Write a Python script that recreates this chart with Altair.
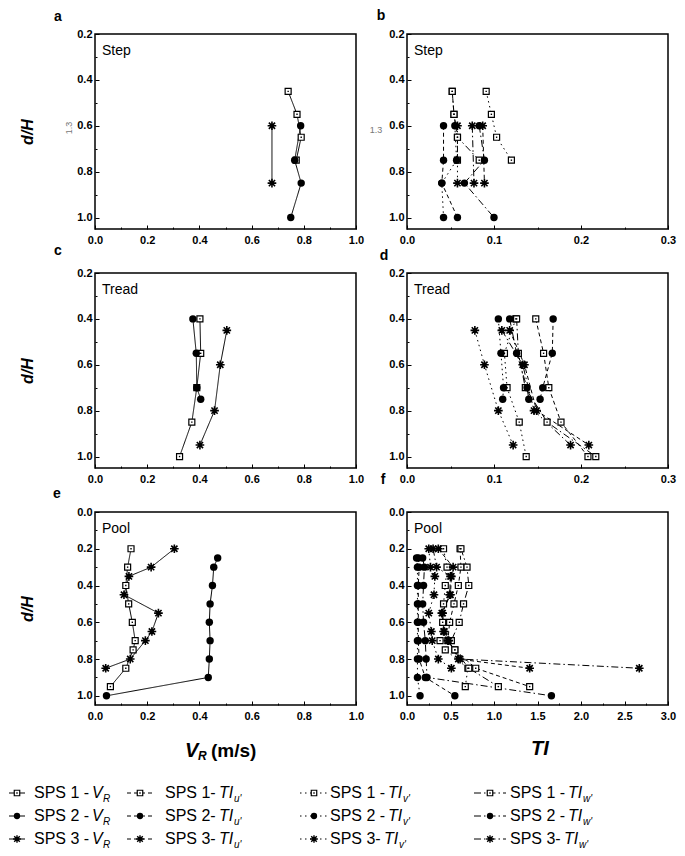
import altair as alt
import pandas as pd

# ---------------- data ----------------
# d/H levels per site
STEP_D1 = [0.45, 0.55, 0.65, 0.75]
STEP_D2 = [0.60, 0.75, 0.85, 1.00]
STEP_D3 = [0.60, 0.85]
TREAD_D1 = [0.40, 0.55, 0.70, 0.85, 1.00]
TREAD_D2 = [0.40, 0.55, 0.70, 0.75]
TREAD_D3 = [0.45, 0.60, 0.80, 0.95]
POOL_D1 = [0.20, 0.30, 0.40, 0.50, 0.60, 0.70, 0.75, 0.85, 0.95]
POOL_D2 = [0.25, 0.30, 0.40, 0.50, 0.60, 0.70, 0.80, 0.90, 1.00]
POOL_D3 = [0.20, 0.30, 0.35, 0.45, 0.55, 0.65, 0.70, 0.80, 0.85]

# V_R (m/s)
STEP_VR_1 = [0.740, 0.774, 0.790, 0.771]
STEP_VR_2 = [0.788, 0.765, 0.790, 0.750]
STEP_VR_3 = [0.678, 0.678]
TREAD_VR_1 = [0.402, 0.405, 0.390, 0.371, 0.324]
TREAD_VR_2 = [0.375, 0.388, 0.390, 0.405]
TREAD_VR_3 = [0.505, 0.480, 0.458, 0.402]
POOL_VR_1 = [0.138, 0.125, 0.118, 0.129, 0.143, 0.154, 0.146, 0.118, 0.059]
POOL_VR_2 = [0.470, 0.455, 0.450, 0.441, 0.438, 0.441, 0.438, 0.434, 0.044]
POOL_VR_3 = [0.304, 0.215, 0.130, 0.111, 0.243, 0.218, 0.193, 0.135, 0.041]

# TI - step
STEP_TIU_1 = [0.052, 0.054, 0.058, 0.058]
STEP_TIV_1 = [0.091, 0.097, 0.103, 0.120]
STEP_TIW_1 = [0.052, 0.054, 0.058, 0.083]
STEP_TIU_2 = [0.042, 0.042, 0.040, 0.058]
STEP_TIV_2 = [0.055, 0.057, 0.040, 0.042]
STEP_TIW_2 = [0.083, 0.089, 0.066, 0.100]
STEP_TIU_3 = [0.087, 0.089]
STEP_TIV_3 = [0.058, 0.058]
STEP_TIW_3 = [0.075, 0.077]

# TI - tread
TREAD_TIU_1 = [0.148, 0.157, 0.163, 0.177, 0.208]
TREAD_TIV_1 = [0.125, 0.112, 0.115, 0.129, 0.137]
TREAD_TIW_1 = [0.126, 0.128, 0.136, 0.161, 0.217]
TREAD_TIU_2 = [0.168, 0.167, 0.156, 0.153]
TREAD_TIV_2 = [0.105, 0.108, 0.111, 0.110]
TREAD_TIW_2 = [0.118, 0.126, 0.138, 0.140]
TREAD_TIU_3 = [0.118, 0.135, 0.149, 0.209]
TREAD_TIV_3 = [0.078, 0.089, 0.105, 0.122]
TREAD_TIW_3 = [0.109, 0.133, 0.146, 0.188]

# TI - pool
POOL_TIU_1 = [0.61, 0.62, 0.59, 0.54, 0.49, 0.47, 0.55, 0.79, 1.41]
POOL_TIV_1 = [0.42, 0.46, 0.44, 0.42, 0.41, 0.38, 0.44, 0.70, 0.67]
POOL_TIW_1 = [0.62, 0.69, 0.71, 0.65, 0.60, 0.51, 0.55, 0.71, 1.05]
POOL_TIU_2 = [0.13, 0.14, 0.13, 0.13, 0.13, 0.13, 0.14, 0.21, 0.55]
POOL_TIV_2 = [0.11, 0.12, 0.12, 0.12, 0.12, 0.12, 0.12, 0.12, 0.15]
POOL_TIW_2 = [0.18, 0.20, 0.19, 0.18, 0.19, 0.21, 0.22, 0.23, 1.66]
POOL_TIU_3 = [0.36, 0.53, 0.51, 0.50, 0.40, 0.43, 0.48, 0.59, 1.41]
POOL_TIV_3 = [0.25, 0.27, 0.32, 0.31, 0.25, 0.28, 0.29, 0.36, 0.51]
POOL_TIW_3 = [0.30, 0.34, 0.50, 0.49, 0.41, 0.42, 0.47, 0.61, 2.67]

PANEL_NAMES = ["Step", "Tread", "Pool"]
X_TICKS_VR = [0.0, 0.2, 0.4, 0.6, 0.8, 1.0]
X_MINOR_VR = [0.1, 0.3, 0.5, 0.7, 0.9]
X_TICKS_TI_SMALL = [0.0, 0.1, 0.2, 0.3]
X_MINOR_TI_SMALL = [0.05, 0.15, 0.25]
X_TICKS_TI_POOL = [0.0, 0.5, 1.0, 1.5, 2.0, 2.5, 3.0]
X_MINOR_TI_POOL = [0.25, 0.75, 1.25, 1.75, 2.25, 2.75]
Y_TICKS = [0.2, 0.4, 0.6, 0.8, 1.0]
Y_MINOR = [0.3, 0.5, 0.7, 0.9]
Y_TICKS_POOL = [0.0, 0.2, 0.4, 0.6, 0.8, 1.0]
Y_MINOR_POOL = [0.1, 0.3, 0.5, 0.7, 0.9]

LEG_PREFIX = ["SPS 1 - ", "SPS 2 - ", "SPS 3 - ",
              "SPS 1- ", "SPS 2- ", "SPS 3- ",
              "SPS 1 - ", "SPS 2 - ", "SPS 3- ",
              "SPS 1 - ", "SPS 2 - ", "SPS 3- "]
LEG_MAIN = ["V", "V", "V"] + ["TI"] * 9
LEG_SUB = ["R", "R", "R", "u'", "u'", "u'", "v'", "v'", "v'", "w'", "w'", "w'"]
LEG_SPS = [1, 2, 3] * 4
LEG_COMP = ["VR"] * 3 + ["u"] * 3 + ["v"] * 3 + ["w"] * 3

# ---------------- assemble ----------------
SERIES = [
    ("a", 1, "VR", STEP_D1, STEP_VR_1), ("a", 2, "VR", STEP_D2, STEP_VR_2), ("a", 3, "VR", STEP_D3, STEP_VR_3),
    ("c", 1, "VR", TREAD_D1, TREAD_VR_1), ("c", 2, "VR", TREAD_D2, TREAD_VR_2), ("c", 3, "VR", TREAD_D3, TREAD_VR_3),
    ("e", 1, "VR", POOL_D1, POOL_VR_1), ("e", 2, "VR", POOL_D2, POOL_VR_2), ("e", 3, "VR", POOL_D3, POOL_VR_3),
    ("b", 1, "u", STEP_D1, STEP_TIU_1), ("b", 1, "v", STEP_D1, STEP_TIV_1), ("b", 1, "w", STEP_D1, STEP_TIW_1),
    ("b", 2, "u", STEP_D2, STEP_TIU_2), ("b", 2, "v", STEP_D2, STEP_TIV_2), ("b", 2, "w", STEP_D2, STEP_TIW_2),
    ("b", 3, "u", STEP_D3, STEP_TIU_3), ("b", 3, "v", STEP_D3, STEP_TIV_3), ("b", 3, "w", STEP_D3, STEP_TIW_3),
    ("d", 1, "u", TREAD_D1, TREAD_TIU_1), ("d", 1, "v", TREAD_D1, TREAD_TIV_1), ("d", 1, "w", TREAD_D1, TREAD_TIW_1),
    ("d", 2, "u", TREAD_D2, TREAD_TIU_2), ("d", 2, "v", TREAD_D2, TREAD_TIV_2), ("d", 2, "w", TREAD_D2, TREAD_TIW_2),
    ("d", 3, "u", TREAD_D3, TREAD_TIU_3), ("d", 3, "v", TREAD_D3, TREAD_TIV_3), ("d", 3, "w", TREAD_D3, TREAD_TIW_3),
    ("f", 1, "u", POOL_D1, POOL_TIU_1), ("f", 1, "v", POOL_D1, POOL_TIV_1), ("f", 1, "w", POOL_D1, POOL_TIW_1),
    ("f", 2, "u", POOL_D2, POOL_TIU_2), ("f", 2, "v", POOL_D2, POOL_TIV_2), ("f", 2, "w", POOL_D2, POOL_TIW_2),
    ("f", 3, "u", POOL_D3, POOL_TIU_3), ("f", 3, "v", POOL_D3, POOL_TIV_3), ("f", 3, "w", POOL_D3, POOL_TIW_3),
]
rows = []
for panel, sps, comp, ds, vs in SERIES:
    for i, (d, v) in enumerate(zip(ds, vs)):
        rows.append(dict(panel=panel, sps=sps, comp=comp, series=f"{sps}-{comp}", d=d, val=v, ord=i))
df = pd.DataFrame(rows)

FONT = "Liberation Sans"
DASH_DOMAIN = ["VR", "u", "v", "w"]
DASH_RANGE = [[1, 0], [4, 3], [1.5, 3.5], [7, 3, 1.5, 3]]
STAR = "M-1,0L1,0M0,-1L0,1M-0.72,-0.72L0.72,0.72M-0.72,0.72L0.72,-0.72"
W = 261


def point_layers(base, x, y):
    sq = base.transform_filter("datum.sps == 1").mark_point(
        shape="square", filled=True, fill="white", color="black", stroke="black",
        strokeWidth=1.2, size=36, opacity=1).encode(x=x, y=y)
    dot = base.transform_filter("datum.sps == 1").mark_point(
        shape="square", filled=True, color="black", size=2, opacity=1).encode(x=x, y=y)
    circ = base.transform_filter("datum.sps == 2").mark_point(
        shape="circle", filled=True, color="black", size=55, opacity=1).encode(x=x, y=y)
    star = base.transform_filter("datum.sps == 3").mark_point(
        shape=STAR, filled=False, color="black", strokeWidth=1.6, size=75, opacity=1).encode(x=x, y=y)
    return [sq, dot, circ, star]


def text_layer(txt, xpos, ypos, **kw):
    return alt.Chart(pd.DataFrame({"t": [txt]})).mark_text(font=FONT, **kw).encode(
        text="t:N", x=alt.value(xpos), y=alt.value(ypos))


AXIS_COMMON = dict(domain=False, grid=False, tickColor="black", tickWidth=1,
                   labelFont=FONT, labelFontWeight="bold", labelFontSize=11, labelColor="black",
                   labelFlush=False)


def panel(key, name, xdom, xticks, xminor, ydom, yticks, yminor, h, ytitle, letter_pos, extra=None):
    base = alt.Chart(df[df.panel == key])
    xaxis = alt.Axis(values=xticks, format=".1f", title=None, tickSize=4, offset=-4, labelPadding=5,
                     **AXIS_COMMON)
    yargs = dict(values=yticks, format=".1f", tickSize=4, offset=-4, labelPadding=3, **AXIS_COMMON)
    if ytitle:
        yaxis = alt.Axis(title="d/H", titleFont=FONT, titleFontSize=16, titleFontWeight="bold",
                         titleFontStyle="italic", titleColor="black", titlePadding=41, **yargs)
    else:
        yaxis = alt.Axis(title=None, **yargs)
    xscale = alt.Scale(domain=xdom, nice=False, zero=False)
    yscale = alt.Scale(domain=ydom, reverse=True, nice=False, zero=False)
    x = alt.X("val:Q", scale=xscale, axis=xaxis)
    y = alt.Y("d:Q", scale=yscale, axis=yaxis)
    line = base.mark_line(color="black", strokeWidth=1).encode(
        x=x, y=y, detail="series:N", order="ord:Q",
        strokeDash=alt.StrokeDash("comp:N", scale=alt.Scale(domain=DASH_DOMAIN, range=DASH_RANGE),
                                  legend=None))
    layers = [line] + point_layers(base, x, y)
    layers.append(text_layer(name, 7, 17, align="left", fontSize=14, color="black"))
    layers.append(text_layer(key, letter_pos[0], letter_pos[1], align="center", baseline="middle",
                             fontSize=14, fontWeight="bold", color="black"))
    if extra:
        layers += extra
    main = alt.layer(*layers)
    # minor (shorter, inward) ticks on a second pair of axes
    mx = alt.X("val:Q", scale=xscale, axis=alt.Axis(values=xminor, orient="bottom", title=None,
                                                  labels=False, tickSize=2, offset=-2, **AXIS_COMMON))
    my = alt.Y("d:Q", scale=yscale, axis=alt.Axis(values=yminor, orient="left", title=None,
                                                labels=False, tickSize=2, offset=-2, **AXIS_COMMON))
    minor = base.mark_point(opacity=0).encode(x=mx, y=my)
    return alt.layer(main, minor).resolve_scale(x="independent", y="independent").properties(
        width=W, height=h)


pa = panel("a", PANEL_NAMES[0], [0, 1], X_TICKS_VR, X_MINOR_VR, [0.2, 1.05], Y_TICKS, Y_MINOR, 195, True,
           (-37, -17),
           [text_layer("1.3", -26, 94, angle=270, fontSize=9, color="#777", align="center",
                       baseline="middle")])
pb = panel("b", PANEL_NAMES[0], [0, 0.3], X_TICKS_TI_SMALL, X_MINOR_TI_SMALL, [0.2, 1.05], Y_TICKS, Y_MINOR,
           195, False, (-26, -18),
           [text_layer("1.3", -31, 96, fontSize=9, color="#777", align="center", baseline="middle")])
pc = panel("c", PANEL_NAMES[1], [0, 1], X_TICKS_VR, X_MINOR_VR, [0.2, 1.05], Y_TICKS, Y_MINOR, 195, True,
           (-37, -22))
pd_ = panel("d", PANEL_NAMES[1], [0, 0.3], X_TICKS_TI_SMALL, X_MINOR_TI_SMALL, [0.2, 1.05], Y_TICKS, Y_MINOR,
            195, False, (-23, -17))
pe = panel("e", PANEL_NAMES[2], [0, 1], X_TICKS_VR, X_MINOR_VR, [0.0, 1.05], Y_TICKS_POOL, Y_MINOR_POOL, 193,
           True, (-38, -18),
           [text_layer("V", 90, 239, align="left", fontSize=20, fontWeight="bold", fontStyle="italic",
                       color="black"),
            text_layer("R", 103, 244, align="left", fontSize=12, fontWeight="bold", fontStyle="italic",
                       color="black"),
            text_layer("(m/s)", 116, 239, align="left", fontSize=19, fontWeight="bold", color="black")])
pf = panel("f", PANEL_NAMES[2], [0, 3], X_TICKS_TI_POOL, X_MINOR_TI_POOL, [0.0, 1.05], Y_TICKS_POOL,
           Y_MINOR_POOL, 193, False, (-24, -32),
           [text_layer("TI", 133, 237, align="center", fontSize=20, fontWeight="bold", fontStyle="italic",
                       color="black")])

# ---------------- custom legend ----------------
leg = pd.DataFrame(dict(prefix=LEG_PREFIX, main=LEG_MAIN, sub=LEG_SUB, sps=LEG_SPS, comp=LEG_COMP))
leg["row"] = leg["sps"] - 1
leg["tight"] = leg["prefix"].str.endswith("- ") & ~leg["prefix"].str.endswith(" - ")
lbase = alt.Chart(leg)
ly = alt.Y("row:Q", scale=alt.Scale(domain=[0, 2], range=[44, 90]), axis=None)

COL_LINE = [(-86, -70), (32, 58), (205, 233), (379, 411)]
COL_TEXT = [-61, 70, 235, 415]
PREFIX_W = {False: 58, True: 54}
MAIN_W = {"VR": 11, "u": 15, "v": 15, "w": 15}

leg_layers = []
for ci, comp in enumerate(DASH_DOMAIN):
    cb = lbase.transform_filter(f"datum.comp == '{comp}'")
    x0, x1 = COL_LINE[ci]
    xc = (x0 + x1) / 2
    leg_layers.append(cb.mark_rule(color="black", strokeWidth=1, strokeDash=DASH_RANGE[ci]).encode(
        x=alt.value(x0), x2=alt.value(x1), y=ly))
    leg_layers.append(cb.transform_filter("datum.sps == 1").mark_point(
        shape="square", filled=True, fill="white", color="black", stroke="black", strokeWidth=1.2,
        size=30, opacity=1).encode(x=alt.value(xc), y=ly))
    leg_layers.append(cb.transform_filter("datum.sps == 1").mark_point(
        shape="square", filled=True, color="black", size=2, opacity=1).encode(x=alt.value(xc), y=ly))
    leg_layers.append(cb.transform_filter("datum.sps == 2").mark_point(
        shape="circle", filled=True, color="black", size=40, opacity=1).encode(x=alt.value(xc), y=ly))
    leg_layers.append(cb.transform_filter("datum.sps == 3").mark_point(
        shape=STAR, filled=False, color="black", strokeWidth=1.4, size=60, opacity=1).encode(
        x=alt.value(xc), y=ly))
    leg_layers.append(cb.mark_text(font=FONT, fontSize=16, align="left", baseline="middle",
                                   color="black").encode(text="prefix:N", x=alt.value(COL_TEXT[ci]), y=ly))
    for tight in (False, True):
        tb = cb.transform_filter(f"datum.tight == {'true' if tight else 'false'}")
        mxp = COL_TEXT[ci] + PREFIX_W[tight]
        leg_layers.append(tb.mark_text(font=FONT, fontSize=16, fontStyle="italic", align="left",
                                       baseline="middle", color="black").encode(
            text="main:N", x=alt.value(mxp), y=ly))
        leg_layers.append(tb.mark_text(font=FONT, fontSize=10, fontStyle="italic", align="left",
                                       baseline="middle", color="black", dy=6).encode(
            text="sub:N", x=alt.value(mxp + MAIN_W[comp]), y=ly))

legend = alt.layer(*leg_layers).properties(width=W, height=95,
                                           view=alt.ViewBackground(strokeOpacity=0))

chart = alt.concat(pa, pb, pc, pd_, pe, pf, legend, columns=2, spacing=alt.RowColnumber(row=44, column=51),
                   bounds="flush").properties(
    padding={"left": 0, "top": 0, "right": 0, "bottom": 0}
).configure(font=FONT).configure_view(stroke="black", strokeWidth=1.5)

chart.save("out.html", embed_options={"renderer": "svg", "actions": False})
